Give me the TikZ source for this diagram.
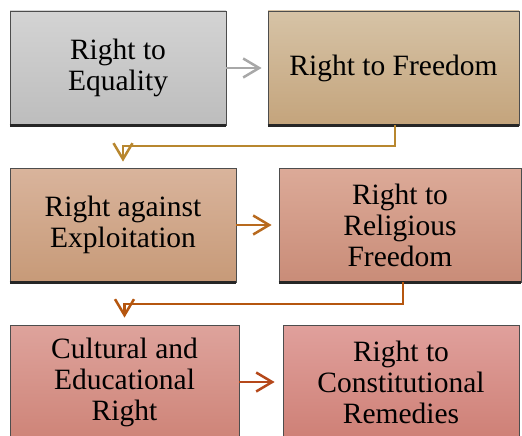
\documentclass[tikz,border=0pt]{standalone}
\usepackage{fontspec}
\setmainfont{Liberation Serif}
\usetikzlibrary{arrows.meta}
\definecolor{bordc}{HTML}{4D4D4D}
\definecolor{shadc}{HTML}{262626}
\definecolor{aone}{HTML}{A8A8A8}
\definecolor{ctwo}{HTML}{B8872F}
\definecolor{athree}{HTML}{B86A1E}
\definecolor{cfour}{HTML}{B5560F}
\definecolor{afive}{HTML}{B5481A}
\tikzset{
  box/.style={draw=bordc, line width=0.8pt, rectangle, inner sep=0pt,
    minimum height=114pt, align=center,
    font=\fontsize{29.5}{31}\selectfont},
  shadowline/.style={draw=shadc, line width=2.5pt},
  conn/.style={line width=2.5pt, line join=miter,
    -{Straight Barb[length=16pt,width=19pt,line width=2.5pt]}},
}
\begin{document}
\begin{tikzpicture}[x=1pt,y=-1pt]
\useasboundingbox (0,0) rectangle (522,436);
\node[box, top color=black!17, bottom color=black!26, minimum width=216pt] (b1) at (118,68) {Right to\\Equality};
\node[box, top color={rgb,255:red,214;green,195;blue,166}, bottom color={rgb,255:red,196;green,164;blue,124}, minimum width=251pt] (b2) at (393.5,68) {Right to Freedom};
\node[box, top color={rgb,255:red,217;green,180;blue,156}, bottom color={rgb,255:red,199;green,154;blue,120}, minimum width=226pt] (b3) at (123,225) {Right against\\Exploitation};
\node[box, top color={rgb,255:red,220;green,170;blue,152}, bottom color={rgb,255:red,201;green,140;blue,120}, minimum width=242pt] (b4) at (400,225) {Right to\\Religious\\Freedom};
\node[box, top color={rgb,255:red,222;green,163;blue,156}, bottom color={rgb,255:red,206;green,132;blue,120}, minimum width=229pt] (b5) at (124.5,382) {Cultural and\\Educational\\Right};
\node[box, top color={rgb,255:red,224;green,160;blue,156}, bottom color={rgb,255:red,206;green,128;blue,118}, minimum width=236pt] (b6) at (401,382) {Right to\\Constitutional\\Remedies};
\foreach \n in {b1,b2,b3,b4}{\draw[shadowline] (\n.south west) -- (\n.south east);}
\coordinate (k1) at (123,146);
\coordinate (k2) at (124.5,304);
\draw[conn, aone, shorten >=6pt] (b1.east) -- (b2.west);
\draw[conn, ctwo, shorten >=6pt] ([xshift=1.5pt]b2.south) |- (k1) -- (b3.north);
\draw[conn, athree, shorten >=7pt] (b3.east) -- (b4.west);
\draw[conn, cfour, shorten >=7pt] ([xshift=3pt]b4.south) |- (k2) -- (b5.north);
\draw[conn, afive, shorten >=8pt] (b5.east) -- (b6.west);
\end{tikzpicture}
\end{document}
